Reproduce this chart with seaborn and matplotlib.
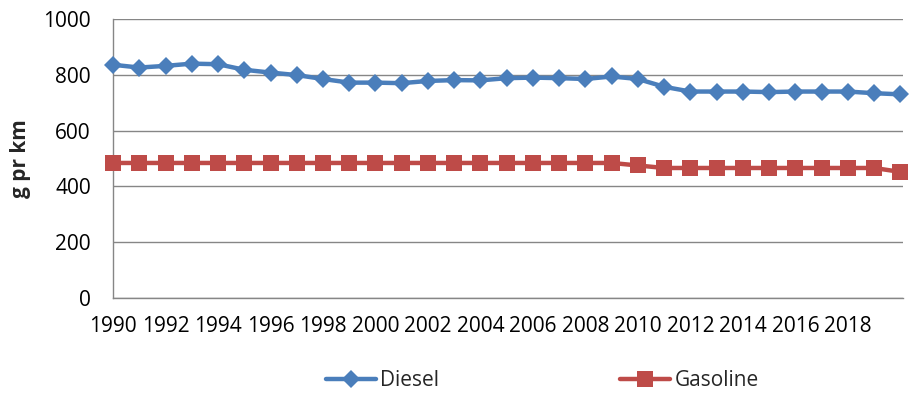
import pandas as pd
import matplotlib
matplotlib.use("Agg")
import matplotlib.pyplot as plt
import seaborn as sns

# Emission values
years = list(range(1990, 2021))
diesel = [836, 826, 832, 840, 838, 818, 808, 799, 785, 772, 772, 770, 778, 781, 780, 788,
          790, 788, 785, 794, 785, 757, 740, 740, 740, 738, 740, 740, 740, 734, 730]
gasoline = [484, 484, 484, 484, 484, 484, 484, 484, 484, 484, 484, 484, 484, 484, 484, 484,
            484, 484, 484, 484, 475, 466, 466, 466, 466, 466, 466, 466, 466, 466, 452]
tick_labels = [str(y) if (y % 2 == 0 and y < 2020) else "" for y in years]

df = pd.DataFrame({"year": years, "Diesel": diesel, "Gasoline": gasoline})

sns.set_style("white")
plt.rcParams['font.family'] = ['Open Sans', 'DejaVu Sans']

grey = "#868686"
fig, ax = plt.subplots(figsize=(9.16, 3.96), dpi=100)
fig.subplots_adjust(left=0.1234, right=0.9858, top=0.952, bottom=0.2475)

sns.lineplot(data=df, x="year", y="Diesel", ax=ax, color="#4A7EBB", lw=3.2,
             marker="D", markersize=9.5, markeredgewidth=0, label="Diesel", clip_on=False, zorder=4)
sns.lineplot(data=df, x="year", y="Gasoline", ax=ax, color="#BE4B48", lw=3.2,
             marker="s", markersize=12, markeredgewidth=0, label="Gasoline", clip_on=False, zorder=3)

ax.set_xlim(1990, 2020.1)
ax.set_ylim(0, 1000)
ax.set_yticks(range(0, 1001, 200))
ax.set_xticks(years)
ax.set_xticklabels(tick_labels)
ax.yaxis.grid(True, color=grey, lw=1)
ax.set_axisbelow(True)

for s in ["top", "right"]:
    ax.spines[s].set_visible(False)
for s in ["left", "bottom"]:
    ax.spines[s].set_color(grey)
    ax.spines[s].set_linewidth(1)

ax.tick_params(axis="both", which="major", direction="out", length=5, width=1,
               color=grey, labelsize=15, labelcolor="black")
ax.tick_params(axis="x", pad=8)
ax.tick_params(axis="y", pad=11)

ax.set_xlabel("")
ax.set_ylabel("g pr km", fontsize=15, fontweight="bold", labelpad=9)

ax.get_legend().remove()
handles, labels = ax.get_legend_handles_labels()
fig.legend(handles, labels, loc="center", bbox_to_anchor=(0.592, 0.038), ncol=2,
           frameon=False, fontsize=15, handlelength=2.4, columnspacing=8.7,
           handletextpad=0.2)

plt.savefig("out.png", dpi=100)
